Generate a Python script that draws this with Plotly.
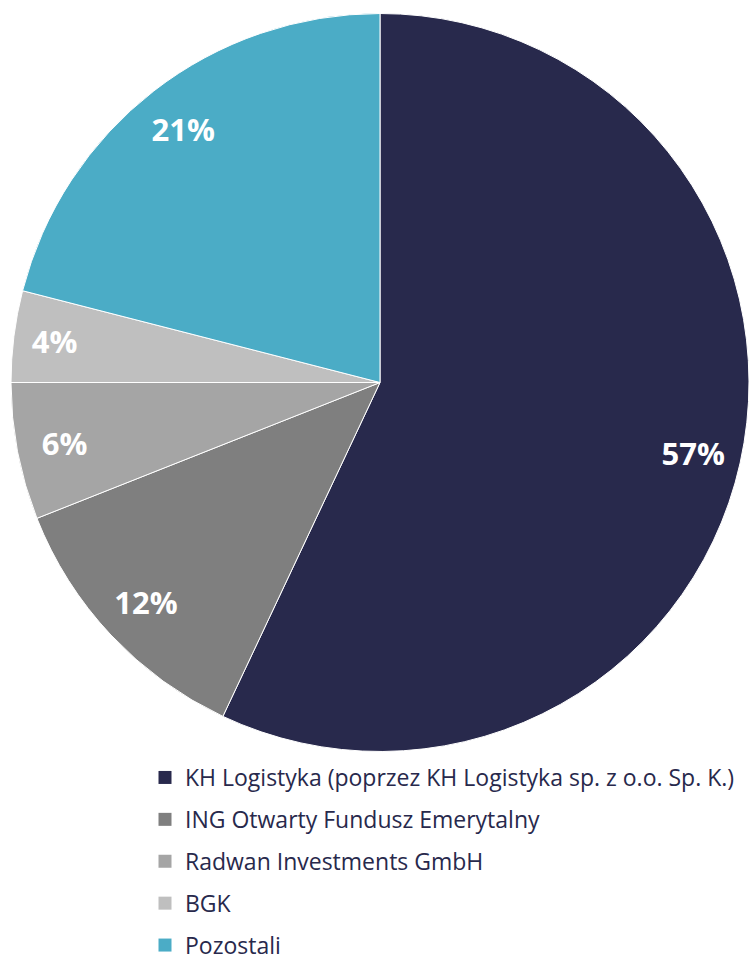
import plotly.graph_objects as go

labels = ["KH Logistyka (poprzez KH Logistyka sp. z o.o. Sp. K.)",
          "ING Otwarty Fundusz Emerytalny",
          "Radwan Investments GmbH",
          "BGK",
          "Pozostali"]
values = [57, 12, 6, 4, 21]
colors = ["#28294c", "#7f7f7f", "#a5a5a5", "#bfbfbf", "#4bacc6"]

W, H = 749, 958
dom = dict(x=[11 / W, 1.0], y=[1 - 751.5 / H, 1 - 13.5 / H])
fig = go.Figure()
# full pie (no text)
fig.add_trace(go.Pie(
    labels=labels, values=values, sort=False, direction="clockwise", rotation=0,
    marker=dict(colors=colors, line=dict(color="white", width=1)),
    textinfo="none", showlegend=False, hoverinfo="label+percent", domain=dom,
))
# invisible ring overlay that carries the percentage labels near the rim
fig.add_trace(go.Pie(
    labels=labels, values=values, sort=False, direction="clockwise", rotation=0,
    hole=0.74,
    marker=dict(colors=["rgba(0,0,0,0)"] * len(values),
                line=dict(color="rgba(0,0,0,0)", width=0)),
    texttemplate="<b>%{percent:.0%}</b>", textposition="inside",
    insidetextorientation="horizontal",
    insidetextfont=dict(family="Open Sans", size=31, color="white"),
    showlegend=False, hoverinfo="skip", domain=dom,
))
for lab, col in zip(labels, colors):
    fig.add_trace(go.Scatter(
        x=[None], y=[None], mode="markers", name=lab, legendgroup=lab,
        marker=dict(symbol="square", size=13, color=col),
    ))

fig.update_layout(
    width=W, height=H, margin=dict(l=0, r=0, t=0, b=0, autoexpand=False),
    paper_bgcolor="white", plot_bgcolor="white",
    xaxis=dict(visible=False), yaxis=dict(visible=False),
    legend=dict(x=145 / W, y=1 - 756 / H, xanchor="left", yanchor="top",
                tracegroupgap=9, bgcolor="rgba(0,0,0,0)",
                font=dict(family="Open Sans", size=23, color="#28294c")),
)
fig.write_html("out.html")
